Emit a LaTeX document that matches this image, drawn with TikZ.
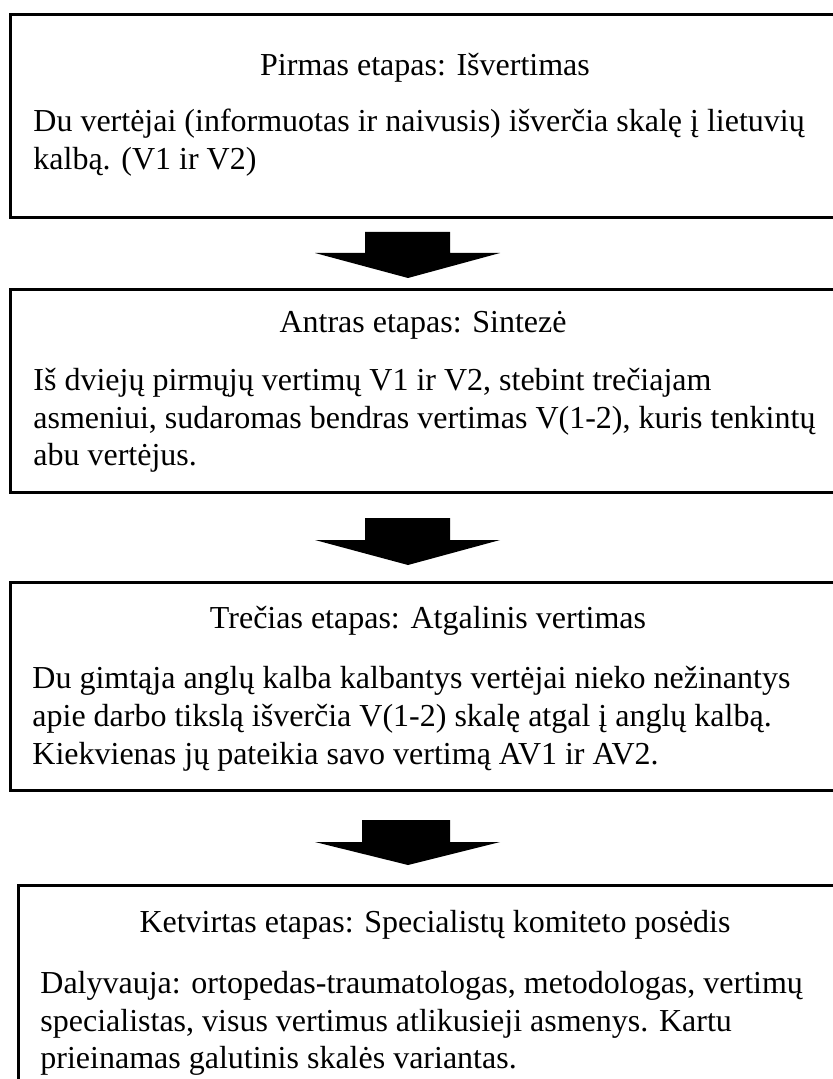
\documentclass[tikz,border=0pt]{standalone}
\usepackage{fontspec}
\setmainfont{Liberation Serif}
\usetikzlibrary{calc}
\tikzset{
  stagebox/.style={draw, line width=1.5pt, inner sep=0pt},
  bodyline/.style={inner sep=0pt, anchor=base west, font=\fontsize{16}{19}\selectfont},
  titleline/.style={inner sep=0pt, anchor=base, font=\fontsize{16}{19}\selectfont},
  blockarrow/.style={fill=black, draw=none}
}
\begin{document}
\begin{tikzpicture}[x=0.5pt,y=-0.5pt]
\useasboundingbox (0,0) rectangle (833,1079);
\clip (0,0) rectangle (833,1079);
% boxes
\node[stagebox, minimum width=417.5pt, minimum height=101.5pt] (b1) at (427.5,116.5) {};
\node[stagebox, minimum width=417.5pt, minimum height=101pt] (b2) at (427.5,391) {};
\node[stagebox, minimum width=417.5pt, minimum height=104pt] (b3) at (427.5,686) {};
\node[stagebox, minimum width=416pt, minimum height=107.5pt] (b4) at (434,992.5) {};
% box 1
\node[titleline] (t1) at (425,76) {Pirmas etapas: Išvertimas};
\node[bodyline] (l11) at (33,132) {Du vertėjai (informuotas ir naivusis) išverčia skalę į lietuvių};
\node[bodyline] (l12) at (33,170) {kalbą. (V1 ir V2)};
% box 2
\node[titleline] (t2) at (423,333) {Antras etapas: Sintezė};
\node[bodyline] (l21) at (33,390) {Iš dviejų pirmųjų vertimų V1 ir V2, stebint trečiajam};
\node[bodyline] (l22) at (33,428) {asmeniui, sudaromas bendras vertimas V(1-2), kuris tenkintų};
\node[bodyline] (l23) at (33,465) {abu vertėjus.};
% box 3
\node[titleline] (t3) at (428,628) {Trečias etapas: Atgalinis vertimas};
\node[bodyline] (l31) at (32,688) {Du gimtąja anglų kalba kalbantys vertėjai nieko nežinantys};
\node[bodyline] (l32) at (32,726) {apie darbo tikslą išverčia V(1-2) skalę atgal į anglų kalbą.};
\node[bodyline] (l33) at (32,764) {Kiekvienas jų pateikia savo vertimą AV1 ir AV2.};
% box 4
\node[titleline] (t4) at (435,932) {Ketvirtas etapas: Specialistų komiteto posėdis};
\node[bodyline] (l41) at (40,993) {Dalyvauja: ortopedas-traumatologas, metodologas, vertimų};
\node[bodyline] (l42) at (40,1031) {specialistas, visus vertimus atlikusieji asmenys. Kartu};
\node[bodyline] (l43) at (40,1068) {prieinamas galutinis skalės variantas.};
% arrows
\coordinate (a1) at (408,278);
\coordinate (a2) at (408,565);
\coordinate (a3) at (408,865);
\fill[blockarrow] (a1) -- ++(-93,-25) -- ++(50,0) -- ++(0,-21) -- ++(85,0) -- ++(0,21) -- ++(50,0) -- cycle;
\fill[blockarrow] (a2) -- ++(-93,-25) -- ++(50,0) -- ++(0,-22) -- ++(85,0) -- ++(0,22) -- ++(50,0) -- cycle;
\fill[blockarrow] (a3) -- ++(-93,-23) -- ++(47,0) -- ++(0,-22) -- ++(88,0) -- ++(0,22) -- ++(50,0) -- cycle;
\end{tikzpicture}
\end{document}
